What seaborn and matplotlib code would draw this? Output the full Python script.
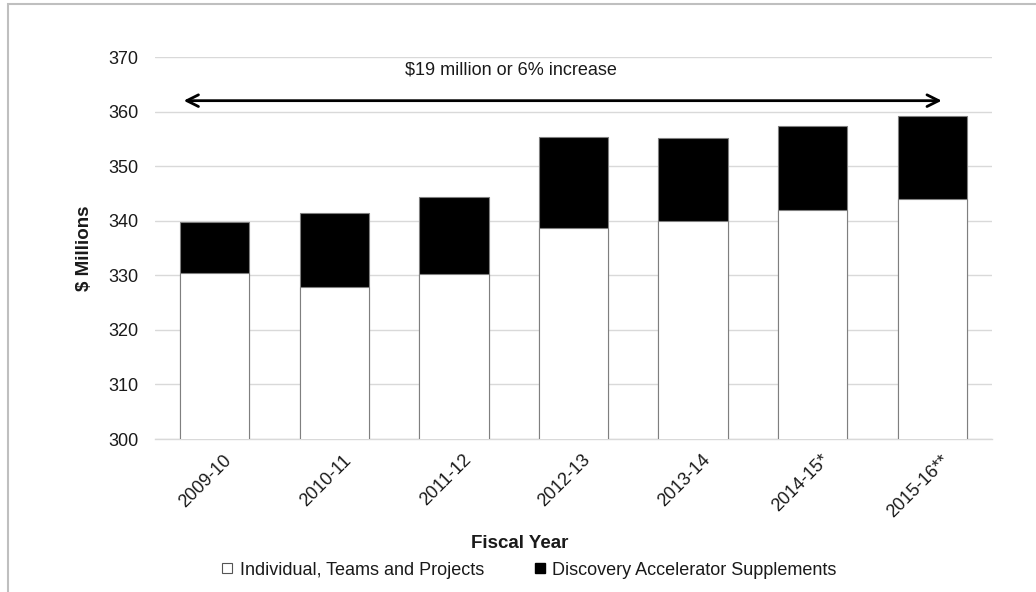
import matplotlib
matplotlib.use("Agg")
import matplotlib.pyplot as plt
from matplotlib.lines import Line2D
from matplotlib.patches import Rectangle
from matplotlib.transforms import ScaledTranslation
import seaborn as sns
import pandas as pd

# Funding by fiscal year ($ millions)
years = ["2009-10", "2010-11", "2011-12", "2012-13", "2013-14", "2014-15*", "2015-16**"]
individual = [330.4, 327.8, 330.3, 338.7, 339.9, 341.9, 343.9]
supplements = [9.4, 13.6, 14.1, 16.6, 15.3, 15.4, 15.2]
totals = [a + b for a, b in zip(individual, supplements)]

series_names = ["Individual, Teams and Projects", "Discovery Accelerator Supplements"]
annotation = "\\$19 million or 6% increase"

sns.set_theme(style="white")
plt.rcParams["font.family"] = ["Liberation Sans", "DejaVu Sans"]

FS = 13
TXT = "#1a1a1a"

fig = plt.figure(figsize=(10.36, 5.92), dpi=100)
ax = fig.add_axes([0.1496, 0.2584, 0.8079, 0.6453])

df_total = pd.DataFrame({"year": years, "value": totals})
df_ind = pd.DataFrame({"year": years, "value": individual})

bar_w = 0.58
# Full stack height in black, lower segment drawn over it in white
sns.barplot(data=df_total, x="year", y="value", color="black", width=bar_w,
            edgecolor="#7f7f7f", linewidth=0.8, saturation=1, ax=ax, zorder=2)
sns.barplot(data=df_ind, x="year", y="value", color="white", width=bar_w,
            edgecolor="#7f7f7f", linewidth=0.8, saturation=1, ax=ax, zorder=3)

ax.set_ylim(300, 370)
ax.set_xlim(-0.5, 6.5)
ax.set_yticks(range(300, 371, 10))
ax.yaxis.grid(True, color="#d9d9d9", linewidth=1.0, zorder=0)
ax.set_axisbelow(True)
for s in ["top", "right", "left"]:
    ax.spines[s].set_visible(False)
ax.spines["bottom"].set_color("#d9d9d9")
ax.spines["bottom"].set_linewidth(1.0)

ax.tick_params(axis="y", length=0, pad=12, labelsize=FS, labelcolor=TXT)
ax.tick_params(axis="x", length=0, pad=9, labelsize=FS, labelcolor=TXT)
shift = ScaledTranslation(6 / 72, 0, fig.dpi_scale_trans)
for lbl in ax.get_xticklabels():
    lbl.set_rotation(45)
    lbl.set_ha("right")
    lbl.set_rotation_mode("anchor")
    lbl.set_transform(lbl.get_transform() + shift)

ax.set_xlabel("Fiscal Year", fontsize=FS + 0.5, fontweight="bold", color=TXT)
ax.xaxis.set_label_coords(0.436, -0.25)
ax.set_ylabel("\\$ Millions", fontsize=FS + 0.5, fontweight="bold", color=TXT)
ax.yaxis.set_label_coords(-0.074, 0.5)

# Span arrow and annotation
ax.annotate("", xy=(6.08, 362.0), xytext=(-0.26, 362.0),
            arrowprops=dict(arrowstyle="<->,head_length=0.7,head_width=0.35",
                            color="black", lw=2.0, shrinkA=0, shrinkB=0))
ax.text(2.48, 367.7, annotation, ha="center", va="center", fontsize=FS, color=TXT)

# Legend
handles = [
    Line2D([0], [0], marker="s", linestyle="none", markersize=7,
           markerfacecolor="white", markeredgecolor="#555555", markeredgewidth=0.8),
    Line2D([0], [0], marker="s", linestyle="none", markersize=7,
           markerfacecolor="black", markeredgecolor="black"),
]
fig.legend(handles, series_names, loc="center", bbox_to_anchor=(0.509, 0.037),
           ncol=2, frameon=False, fontsize=FS, handletextpad=0.2,
           columnspacing=2.6, handlelength=1.0, labelcolor=TXT)

# Outer frame edges
fig.patches.append(Rectangle((8 / 1036, -0.1), 2.0, 1.1 - 4 / 592, transform=fig.transFigure,
                             fill=False, edgecolor="#bfbfbf", linewidth=1.5))

fig.savefig("out.png", dpi=100, facecolor="white")
